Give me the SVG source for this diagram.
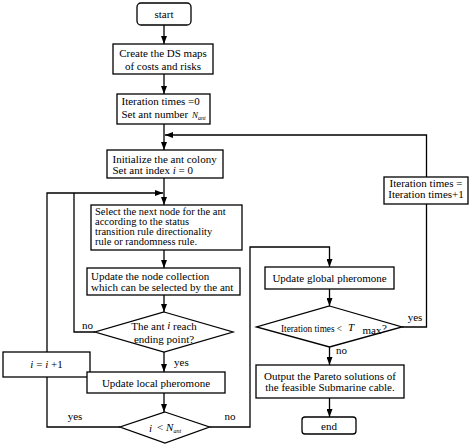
<svg xmlns="http://www.w3.org/2000/svg" width="474" height="447" viewBox="0 0 474 447">
<style>
.b{fill:#fff;stroke:#000;stroke-width:1.3}
.c{fill:none;stroke:#000;stroke-width:1.3}
text{font-family:"Liberation Serif","Times New Roman",serif;font-size:11px;fill:#000}
.m{text-anchor:middle}
.i{font-style:italic}
.s{font-size:6px;font-style:italic}
.t{font-size:10.5px}
</style>
<defs>
<marker id="a" markerWidth="8" markerHeight="6" refX="8" refY="3" orient="auto" markerUnits="userSpaceOnUse">
<path d="M0,0 L8,3 L0,6 z" fill="#000"/>
</marker>
</defs>
<rect width="474" height="447" fill="#fff"/>
<g id="connectors">
<path class="c" d="M164,25 V44" marker-end="url(#a)"/>
<path class="c" d="M164,74 V94" marker-end="url(#a)"/>
<path class="c" d="M164,124 V150" marker-end="url(#a)"/>
<path class="c" d="M426.5,177 V135 H165" marker-end="url(#a)"/>
<path class="c" d="M164,178 V205" marker-end="url(#a)"/>
<path class="c" d="M47,352 V193 H163" marker-end="url(#a)"/>
<path class="c" d="M95,332 H74 V193"/>
<path class="c" d="M164,250 V268" marker-end="url(#a)"/>
<path class="c" d="M164,295 V312" marker-end="url(#a)"/>
<path class="c" d="M164,352 V372" marker-end="url(#a)"/>
<path class="c" d="M164,393 V412" marker-end="url(#a)"/>
<path class="c" d="M120,427 H47 V377"/>
<path class="c" d="M209.5,427 H250 V247 H329.5 V267" marker-end="url(#a)"/>
<path class="c" d="M329.5,289 V306" marker-end="url(#a)"/>
<path class="c" d="M402,327 H426.5 V204"/>
<path class="c" d="M329.5,347 V365" marker-end="url(#a)"/>
<path class="c" d="M329.5,398 V417" marker-end="url(#a)"/>
<text x="87.5" y="329" class="m">no</text>
<text x="174" y="366">yes</text>
<text x="75" y="420" class="m">yes</text>
<text x="230" y="420" class="m">no</text>
<text x="415" y="321" class="m">yes</text>
<text x="336" y="354">no</text>
</g>
<g id="start">
<rect class="b" x="137" y="3" width="54" height="22" rx="4"/>
<text x="164" y="18" class="m">start</text>
</g>
<g id="create">
<rect class="b" x="113" y="44" width="100" height="30"/>
<text x="163" y="56.5" class="m">Create the DS maps</text>
<text x="163" y="69.5" class="m">of costs and risks</text>
</g>
<g id="iter0">
<rect class="b" x="117" y="94" width="93" height="30"/>
<text x="121.5" y="105">Iteration times =0</text>
<text x="121.5" y="118">Set ant number <tspan x="192" class="i" font-size="9">N</tspan><tspan class="s" dy="2">ant</tspan></text>
</g>
<g id="init">
<rect class="b" x="107" y="150" width="116" height="28"/>
<text x="112.5" y="162.5">Initialize the ant colony</text>
<text x="112.5" y="174">Set ant index <tspan class="i">i</tspan> = 0</text>
</g>
<g id="select">
<rect class="b" x="91" y="205" width="151" height="45"/>
<text x="95" y="215" class="t">Select the next node for the ant</text>
<text x="95" y="225" class="t">according to the status</text>
<text x="95" y="235" class="t">transition rule directionality</text>
<text x="95" y="245" class="t">rule or randomness rule.</text>
</g>
<g id="update-node">
<rect class="b" x="87" y="268" width="153" height="27"/>
<text x="91" y="279.5">Update the node collection</text>
<text x="91" y="290.5">which can be selected by the ant</text>
</g>
<g id="reach">
<polygon class="b" points="164,312 233,332 164,352 95,332"/>
<text x="164" y="330" class="m">The ant <tspan class="i" dy="-1">i</tspan><tspan dy="1">  reach</tspan></text>
<text x="164" y="343" class="m">ending point?</text>
</g>
<g id="inc">
<rect class="b" x="3" y="352" width="87" height="25"/>
<text x="46.5" y="368" class="m"><tspan class="i">i</tspan> = <tspan class="i">i</tspan> +1</text>
</g>
<g id="local">
<rect class="b" x="87" y="372" width="138" height="21"/>
<text x="156" y="387" class="m">Update local pheromone</text>
</g>
<g id="lessN">
<polygon class="b" points="165,412 209.5,427 165,443 120,427"/>
<text x="149" y="432" class="i" font-size="16">i</text>
<text x="157" y="431">&lt;</text>
<text x="166" y="431" class="i" font-size="9">N</text>
<text x="173.5" y="433" class="s">ant</text>
</g>
<g id="iter-inc">
<rect class="b" x="384" y="177" width="84" height="27"/>
<text x="426" y="187" class="m">Iteration times =</text>
<text x="426" y="198" class="m">Iteration times+1</text>
</g>
<g id="global">
<rect class="b" x="265" y="267" width="129" height="22"/>
<text x="329.5" y="282" class="m">Update global pheromone</text>
</g>
<g id="tmax">
<polygon class="b" points="329.5,306 402,327 329.5,347 256.5,327"/>
<text x="281" y="332" font-size="9" textLength="61" lengthAdjust="spacingAndGlyphs">Iteration times &lt;</text>
<text x="348" y="331" class="i" font-size="12">T</text>
<text x="362.5" y="334" font-size="6.5">max</text>
<text x="382" y="332" font-size="9.5">?</text>
</g>
<g id="output">
<rect class="b" x="256" y="365" width="148" height="33"/>
<text x="330" y="379.5" class="m">Output the Pareto solutions of</text>
<text x="330" y="390.5" class="m">the feasible Submarine cable.</text>
</g>
<g id="end">
<rect class="b" x="302" y="417" width="54" height="17" rx="3"/>
<text x="329" y="429.5" class="m">end</text>
</g>
</svg>
